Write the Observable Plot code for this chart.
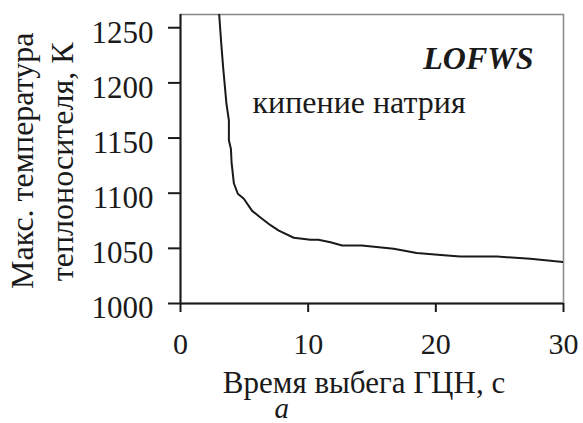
<!DOCTYPE html>
<html>
<head>
<meta charset="utf-8">
<script src="https://cdn.jsdelivr.net/npm/d3@7"></script>
<script src="https://cdn.jsdelivr.net/npm/@observablehq/plot@0.6"></script>
<style>
  html, body { margin: 0; padding: 0; background: #fff; }
</style>
</head>
<body>
<div id="chart"></div>
<script>
const time = [3.03, 3.19, 3.34, 3.6, 3.79, 3.79, 3.95, 4.0, 4.18, 4.49, 4.96, 5.61, 6.26, 7.05, 7.7, 8.87, 10.18, 10.8, 11.75, 12.66, 14.2, 16.7, 18.5, 20.4, 21.9, 24.8, 27.4, 30];
const temp = [1262, 1236, 1214, 1181, 1166, 1148, 1140, 1128, 1109, 1099.5, 1095, 1084, 1078, 1071, 1066, 1059.6, 1057.8, 1057.8, 1055.6, 1052.6, 1052.6, 1049.6, 1045.7, 1044, 1042.6, 1042.6, 1040.5, 1037.5];
const xTicks = [0, 10, 20, 30];
const yTicks = [1000, 1050, 1100, 1150, 1200, 1250];
const xLabel = "Время выбега ГЦН, с";
const yLabel1 = "Макс. температура";
const yLabel2 = "теплоносителя, К";
const caseLabel = "LOFWS";
const noteLabel = "кипение натрия";
const panelLabel = "a";

const data = time.map((t, i) => ({t, T: temp[i]}));
const ink = "#1a1a1a";
const ff = "Liberation Serif";

const chart = Plot.plot({
  width: 583,
  height: 423,
  marginLeft: 180,
  marginRight: 20,
  marginTop: 14,
  marginBottom: 120,
  style: {fontFamily: ff, fontSize: "30px", color: ink, background: "#fff"},
  x: {domain: [0, 30]},
  y: {domain: [1000, 1262]},
  marks: [
    Plot.frame({stroke: "#8c8c8c", strokeWidth: 1.6}),
    Plot.line(data, {x: "t", y: "T", stroke: ink, strokeWidth: 2, clip: true}),
    Plot.ruleX([0], {stroke: ink, strokeWidth: 2}),
    Plot.ruleY([1000], {stroke: ink, strokeWidth: 2}),
    Plot.axisY({ticks: yTicks, tickSize: 12, tickFormat: () => "", label: null, stroke: ink, strokeWidth: 2}),
    Plot.axisX({ticks: xTicks, tickSize: 9, tickFormat: () => "", label: null, stroke: ink, strokeWidth: 2}),
    Plot.text(yTicks, {y: d => d, text: d => String(d), frameAnchor: "left", textAnchor: "end", dx: -27, dy: 5, fontSize: 31, fontFamily: ff, fill: ink}),
    Plot.text(xTicks, {x: d => d, text: d => String(d), frameAnchor: "bottom", lineAnchor: "top", dy: 29, fontSize: 30, fontFamily: ff, fill: ink}),
    Plot.text([xLabel], {text: d => d, frameAnchor: "bottom", lineAnchor: "bottom", dx: -8, dy: 89, fontSize: 31, fontFamily: ff, fill: ink}),
    Plot.text([panelLabel], {text: d => d, frameAnchor: "bottom-left", lineAnchor: "bottom", dx: 94, dy: 114, fontSize: 29, fontFamily: ff, fontStyle: "italic", fill: ink}),
    Plot.text([yLabel1], {text: d => d, frameAnchor: "top-left", rotate: -90, textAnchor: "end", lineAnchor: "bottom", dx: -148, dy: 18, fontSize: 32, fontFamily: ff, fill: ink}),
    Plot.text([yLabel2], {text: d => d, frameAnchor: "top-left", rotate: -90, textAnchor: "end", lineAnchor: "bottom", dx: -108, dy: 28, fontSize: 32, fontFamily: ff, fill: ink}),
    Plot.text([caseLabel], {text: d => d, frameAnchor: "top-right", textAnchor: "end", lineAnchor: "bottom", dx: -30, dy: 54, fontSize: 32, fontFamily: ff, fontWeight: "bold", fontStyle: "italic", fill: ink}),
    Plot.text([noteLabel], {text: d => d, frameAnchor: "top-left", textAnchor: "start", lineAnchor: "bottom", dx: 72, dy: 98, fontSize: 32, fontFamily: ff, fill: ink})
  ]
});
document.getElementById("chart").appendChild(chart);
</script>
</body>
</html>
